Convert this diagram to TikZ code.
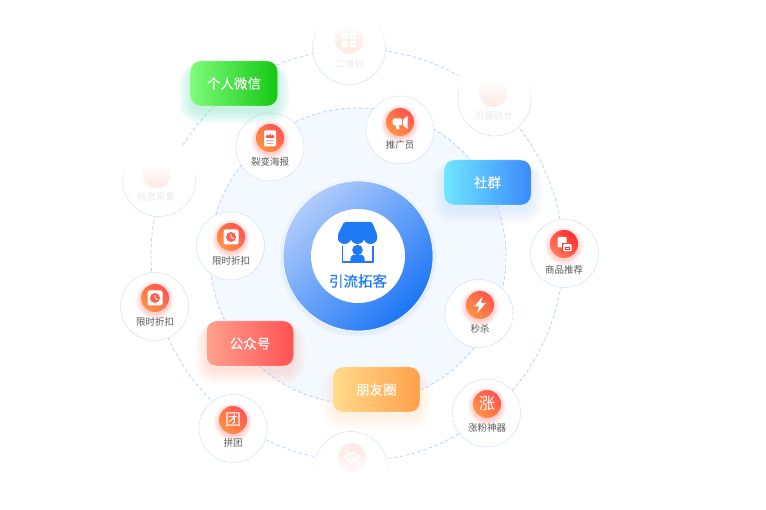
\documentclass[tikz,border=0pt]{standalone}
\usepackage{fontspec}
\setmainfont{Noto Sans CJK SC}
\newfontfamily\hubfont[FakeBold=0.5]{Noto Sans CJK SC}
\newfontfamily\tagfont[FakeBold=0.25]{Noto Sans CJK SC}
\definecolor{ringblue}{HTML}{B4CFF9}
\definecolor{toolblue}{HTML}{C4D9F8}
\definecolor{lightdisc}{HTML}{F4F8FF}
\definecolor{brandblue}{HTML}{1F7AF6}
\definecolor{labelgray}{HTML}{5A5A5A}
\definecolor{palegray}{HTML}{EAEAEA}
\definecolor{palepink}{HTML}{FDECE8}
\definecolor{iconorange}{HTML}{FF9340}
\definecolor{iconred}{HTML}{FF5452}
\definecolor{goodsdark}{HTML}{FF2F2F}
\definecolor{goodslight}{HTML}{FF7A5A}
\definecolor{hublight}{HTML}{B0CCFB}
\definecolor{hubdark}{HTML}{1C76F6}
\definecolor{greenA}{HTML}{7DFB7A}
\definecolor{greenB}{HTML}{14C814}
\definecolor{greenglow}{HTML}{7FE3C8}
\definecolor{blueA}{HTML}{70E6FF}
\definecolor{blueB}{HTML}{3A8AFB}
\definecolor{blueglow}{HTML}{C4DDFC}
\definecolor{redA}{HTML}{FFA18E}
\definecolor{redB}{HTML}{FF5252}
\definecolor{redglow}{HTML}{FFC4B8}
\definecolor{amberA}{HTML}{FFDB8C}
\definecolor{amberB}{HTML}{FFA04A}
\definecolor{amberglow}{HTML}{FFE3C8}
\tikzset{
  x=1pt,y=-1pt,
  bigring/.style={circle,draw=ringblue,line width=0.7pt,dash pattern=on 3.5pt off 2.5pt,inner sep=0pt},
  toolring/.style={circle,draw=toolblue,line width=0.5pt,dash pattern=on 2pt off 0.8pt,fill=white,minimum size=68pt,inner sep=0pt},
  fadering/.style={toolring,minimum size=73pt},
  toollabel/.style={font=\fontsize{9.5}{12}\selectfont,text=labelgray,inner sep=0pt},
  fadelabel/.style={font=\fontsize{9.5}{12}\selectfont,text=palegray,inner sep=0pt},
  tagbox/.style={rounded corners=10pt,minimum width=87pt,minimum height=45pt,inner sep=0pt,draw=white,draw opacity=0.6,line width=0.4pt,text=white,font=\tagfont\fontsize{13.5}{16}\selectfont},
  iconball/.style={circle,minimum size=28pt,inner sep=0pt,left color=iconorange,right color=iconred,shading angle=135,text=white,font=\fontsize{16}{18}\selectfont},
  redball/.style={iconball,left color=goodsdark,right color=goodslight,shading angle=-45},
  paleball/.style={circle,minimum size=28pt,inner sep=0pt,fill=palepink},
  poster/.pic={
    \fill[white,rounded corners=1pt] (-6,-7.5) rectangle (6,8.5);
    \fill[iconred] (-4,0)--(-4,-2)--(-2.4,-3.5)--(-1,-2)--(0,-5)--(1,-2)--(2.4,-3.5)--(4,-2)--(4,0)--cycle;
    \fill[iconred!60] (-4,2.3) rectangle (4,3);
    \fill[iconred!60] (-2.8,4.6) rectangle (2.8,5.3);
  },
  horn/.pic={
    \fill[white,rounded corners=1.5pt] (-7.5,-3.5) rectangle (2.2,3.5);
    \fill[white,rounded corners=0.8pt] (-4.5,3)--(-1,3)--(-0.5,7.5)--(-3.5,7.5)--cycle;
    \fill[white] (3,-2.5)--(7.5,-6)--(7.5,7)--(3,3.5)--cycle;
  },
  clockicon/.pic={
    \fill[white,rounded corners=2pt] (-7.5,-7.5) rectangle (7.5,7.5);
    \fill[iconred!80!iconorange] (0,0) circle (5);
    \draw[white,line width=0.9pt] (0,-3)--(0,0)--(2.5,1.8);
  },
  bolt/.pic={
    \fill[white] (2.5,-8)--(-6,1.5)--(-1,1.5)--(-3,8)--(6,-2)--(0.8,-2)--cycle;
  },
  goodsicon/.pic={
    \fill[white,rounded corners=1pt] (-6.5,-7) rectangle (2.5,3.5);
    \fill[goodsdark] (-1.8,-0.8) rectangle (8.3,8.3);
    \fill[white,rounded corners=1pt] (-1,0) rectangle (7.5,7.5);
    \draw[goodsdark,line width=0.7pt] (1.2,3) rectangle (5,5.6);
  },
  qricon/.pic={
    \fill[white] (-7,-7) rectangle (-1,-1);
    \fill[white] (1,-7) rectangle (7,-1);
    \fill[white] (-7,1) rectangle (-1,7);
    \fill[white] (1,1) rectangle (7,7);
    \fill[palepink] (-5,-5) rectangle (-3,-3);
    \fill[palepink] (3,-5) rectangle (5,-3);
    \fill[palepink] (3,3) rectangle (5,5);
  },
  eyeicon/.pic={
    \draw[white,line width=1.6pt] (-7,0) .. controls (-3,-5) and (3,-5) .. (7,0) .. controls (3,5) and (-3,5) .. (-7,0);
    \draw[white,line width=1.2pt] (-6,-6)--(6,6);
  }
}
% soft shadow of a tag box
\newcommand\tagglow[3]{\foreach \g in {1,...,14}{\fill[#3,opacity=0.035,rounded corners={8pt+\g*1pt}] ({#1-41.5-\g},{#2-15-0.4*\g}) rectangle ({#1+41.5+\g},{#2+27+\g});}}
% soft shadow of an icon ball
\newcommand\ballglow[3]{\foreach \g in {1,...,6}{\fill[#3,opacity=0.05] (#1,#2+2) circle ({13+\g});}}
% white veil in 1px strips: x1, x2, opaque y, direction (+1 or -1), number of strips
\newcommand\veil[5]{\foreach \s [evaluate=\s as \o using {1-(\s-0.5)/#5}] in {1,...,#5}{\fill[white,opacity=\o] (#1,{#3+#4*(\s-1)}) rectangle (#2,{#3+#4*\s});}}
\begin{document}
\begin{tikzpicture}
\useasboundingbox (0,0) rectangle (766,510);
\fill[white] (0,0) rectangle (766,510);

% rings
\node[bigring,minimum size=412pt] (outerring) at (357,255) {};
\node[bigring,minimum size=296pt,fill=lightdisc] (innerdisc) at (358,256) {};

% centre
\foreach \g in {1,...,4}{\fill[brandblue,opacity=0.02] (358,258) circle ({75+\g});}
\node[circle,minimum size=150pt,inner sep=0pt,draw=white,line width=0.7pt,left color=hublight,right color=hubdark,shading angle=45] (hub) at (358,256) {};
\node[circle,minimum size=94pt,inner sep=0pt,fill=white] (hubcore) at (358,256) {};
\fill[brandblue,rounded corners=1.5pt] (344,222)--(372,222)--(377,234)--(377,237.5) arc (0:180:6.5) arc (0:180:6.5) arc (0:180:6.5)--(338,234)--cycle;
\draw[brandblue,line width=1.5pt,line join=round] (342.5,246)--(342.5,262)--(373,262)--(373,246);
\fill[brandblue] (357.5,250) circle (5.3);
\fill[brandblue,rounded corners=2pt] (350,262.5)--(351,255)--(364,255)--(365,262.5)--cycle;
\node[font=\hubfont\fontsize{14.5}{17}\selectfont,text=brandblue,inner sep=0pt] (hubtext) at (358,281) {引流拓客};

% inner tools
\node[toolring] (posterring) at (270,147) {};
\ballglow{270}{138}{iconred}
\node[iconball] (posterball) at (270,138) {};
\pic at (posterball) {poster};
\node[toollabel] (posterlabel) at (270,162) {裂变海报};

\node[toolring] (promoring) at (400,130) {};
\ballglow{400}{122}{iconred}
\node[iconball] (promoball) at (400,122) {};
\pic at (promoball) {horn};
\node[toollabel] (promolabel) at (400,145) {推广员};

\node[toolring] (saleinner) at (230.5,246) {};
\ballglow{231}{237}{iconred}
\node[iconball] (saleinnerball) at (231,237) {};
\pic at (saleinnerball) {clockicon};
\node[toollabel] (saleinnerlabel) at (231,261) {限时折扣};

\node[toolring] (flashring) at (479,313.5) {};
\ballglow{480}{305}{iconred}
\node[iconball] (flashball) at (480,305) {};
\pic at (flashball) {bolt};
\node[toollabel] (flashlabel) at (480,328.5) {秒杀};

% outer tools
\node[toolring] (goodsring) at (564.5,253.5) {};
\ballglow{564}{244}{iconred}
\node[redball] (goodsball) at (564,244) {};
\pic at (goodsball) {goodsicon};
\node[toollabel] (goodslabel) at (564,270) {商品推荐};

\node[toolring] (growring) at (486.5,413) {};
\ballglow{487}{404}{iconred}
\node[iconball] (growball) at (487,404) {涨};
\node[toollabel] (growlabel) at (487,428) {涨粉神器};

\node[toolring] (groupring) at (233,428.5) {};
\ballglow{233}{420}{iconred}
\node[iconball] (groupball) at (233,420) {团};
\node[toollabel] (grouplabel) at (233,443) {拼团};

\node[toolring] (saleouter) at (154.5,306.5) {};
\ballglow{155}{298}{iconred}
\node[iconball] (saleouterball) at (155,298) {};
\pic at (saleouterball) {clockicon};
\node[toollabel] (saleouterlabel) at (155,322) {限时折扣};

% faded tools
\node[fadering] (qrring) at (349,48) {};
\node[paleball] (qrball) at (349,40) {};
\pic at (qrball) {qricon};
\fill[white] (311,0) rectangle (386,24);
\veil{311}{386}{24}{1}{22}
\node[fadelabel] (qrlabel) at (350,63.5) {二维码};

\node[fadering] (statsring) at (494.5,99.5) {};
\node[paleball] (statsball) at (493,93) {};
\fill[white] (459,60) rectangle (533,80);
\veil{459}{533}{80}{1}{24}
\node[fadelabel] (statslabel) at (494,116) {页面统计};

\node[fadering] (inforing) at (159,180) {};
\node[paleball] (infoball) at (156.5,174.5) {};
\fill[white] (120,140) rectangle (180,147);
\fill[white] (120,147) rectangle (198,166);
\veil{120}{198}{166}{1}{20}
\node[fadelabel] (infolabel) at (156,197) {信息采集};

\node[fadering] (eyering) at (351,468) {};
\node[paleball] (eyeball) at (352,457) {};
\pic at (eyeball) {eyeicon};
\fill[white] (312,474) rectangle (391,510);
\veil{312}{391}{474}{-1}{22}

% tag boxes
\tagglow{234}{83.5}{greenglow}
\node[tagbox,left color=greenA,right color=greenB] (wechat) at (234,83.5) {个人微信};
\tagglow{487.5}{182.5}{blueglow}
\node[tagbox,left color=blueA,right color=blueB] (community) at (487.5,182.5) {社群};
\tagglow{250}{343.5}{redglow}
\node[tagbox,left color=redA,right color=redB] (official) at (250,343.5) {公众号};
\tagglow{376.5}{389.5}{amberglow}
\node[tagbox,left color=amberA,right color=amberB] (moments) at (376.5,389.5) {朋友圈};
\end{tikzpicture}
\end{document}
